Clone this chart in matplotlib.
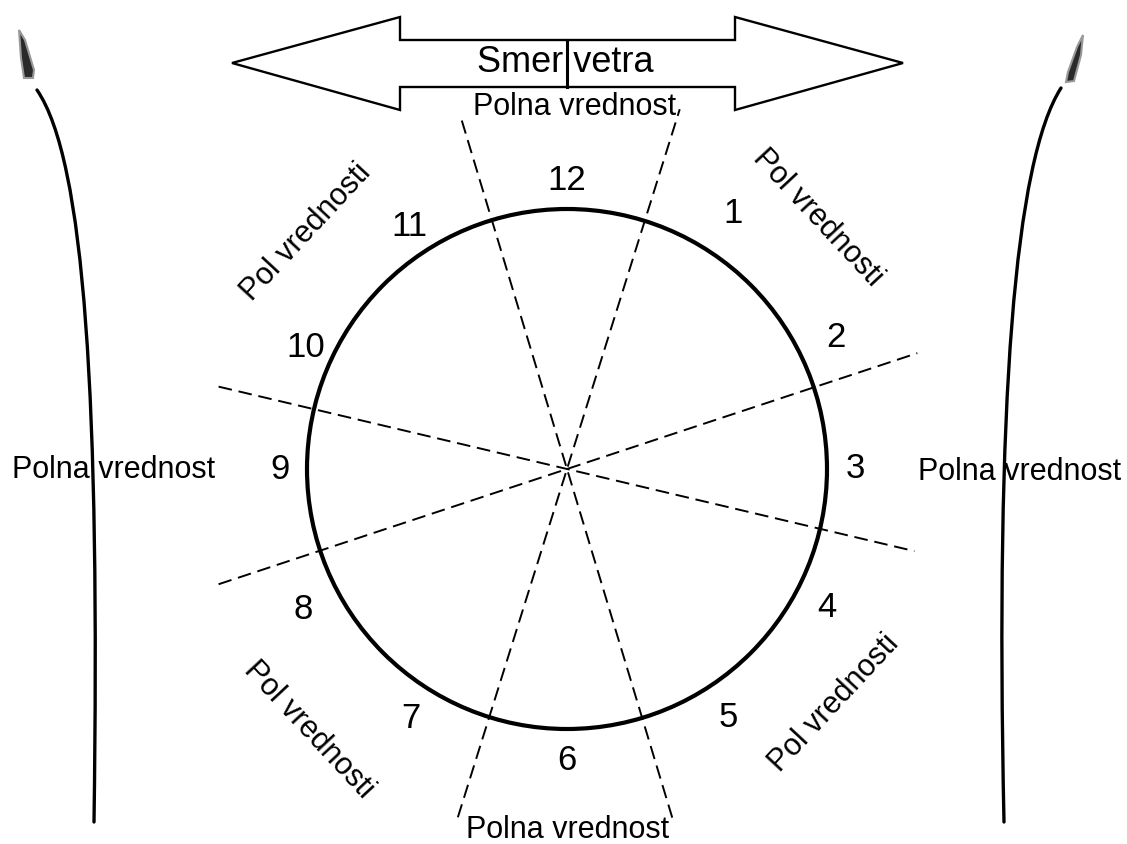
import numpy as np
import matplotlib
matplotlib.use("Agg")
import matplotlib.pyplot as plt
from matplotlib.patches import Circle, Polygon, PathPatch
from matplotlib.path import Path

plt.rcParams['font.family'] = ['Liberation Sans', 'DejaVu Sans']

# clock face
center = (567, 469)
radius = 260
clock_numbers = ['12', '1', '2', '3', '4', '5', '6', '7', '8', '9', '10', '11']
number_bearing = [0, 33, 64, 90, 118, 147, 180, 212, 242, 270, 295, 327]
number_dist = [289, 305, 299, 288, 294, 296, 291, 294, 299, 287, 288, 289]

# dashed sector lines (bearing in degrees clockwise from up, lengths both ways)
line_bearing = [17.4, 71.7, 103.3, 163.2]
line_len_fwd = [377, 369, 357, 365]
line_len_back = [365, 367, 358, 364]

# labels
full_label = 'Polna vrednost'
half_label = 'Pol vrednosti'
full_pos = [(575, 107), (1020, 472), (568, 830), (114, 470)]
half_pos = [(818, 218), (834, 703), (309, 730), (306, 232)]
half_rot = [-47, 47, -47, 47]

# wind arrow outline
arrow_x = [232, 400, 400, 735, 735, 903, 735, 735, 400, 400]
arrow_y = [63, 17, 40, 40, 17, 63, 110, 87, 87, 110]

# skis (bezier control points)
left_ski = [(37, 90), (85, 160), (100, 400), (94, 822)]
right_ski = [(1061, 88), (1015, 160), (995, 400), (1004, 822)]
left_tip = [(19, 30), (25, 40), (34, 70), (33, 78), (24, 78), (21, 58)]
right_tip = [(1083, 35), (1081, 55), (1074, 81), (1066, 82), (1068, 72), (1077, 47)]

fig = plt.figure(figsize=(11.27, 8.44), dpi=100)
ax = fig.add_axes([0, 0, 1, 1])
ax.set_xlim(0, 1127)
ax.set_ylim(844, 0)
ax.axis('off')

ax.add_patch(Circle(center, radius, fill=False, lw=3, color='black', zorder=3))

for b, lf, lb in zip(line_bearing, line_len_fwd, line_len_back):
    a = np.radians(b)
    dx, dy = np.sin(a), -np.cos(a)
    ax.plot([center[0] - dx * lb, center[0] + dx * lf],
            [center[1] - dy * lb, center[1] + dy * lf],
            color='black', lw=1.4, dashes=(7, 3.5), zorder=2)

for num, b, d in zip(clock_numbers, number_bearing, number_dist):
    a = np.radians(b)
    ax.text(center[0] + d * np.sin(a), center[1] - d * np.cos(a), num,
            fontsize=25, ha='center', va='center')

for (x, y) in full_pos:
    ax.text(x, y, full_label, fontsize=22, ha='center', va='center', zorder=4)

for (x, y), r in zip(half_pos, half_rot):
    ax.text(x, y, half_label, fontsize=22, ha='center', va='center',
            rotation=r, rotation_mode='anchor')

ax.add_patch(Polygon(list(zip(arrow_x, arrow_y)), closed=True, fill=False,
                     lw=1.7, edgecolor='black'))
ax.plot([567, 567], [40, 87], color='black', lw=2.2)
ax.text(565, 63, 'Smer vetra', fontsize=26, ha='center', va='center')

codes = [Path.MOVETO, Path.CURVE4, Path.CURVE4, Path.CURVE4]
for ski in (left_ski, right_ski):
    ax.add_patch(PathPatch(Path(ski, codes), fill=False, lw=2.4,
                           edgecolor='black', capstyle='round'))
for tip in (left_tip, right_tip):
    ax.add_patch(Polygon(tip, closed=True, facecolor='#2a2a2a',
                         edgecolor='#999999', lw=1.5))

fig.savefig('out.png', dpi=100, facecolor='white')
